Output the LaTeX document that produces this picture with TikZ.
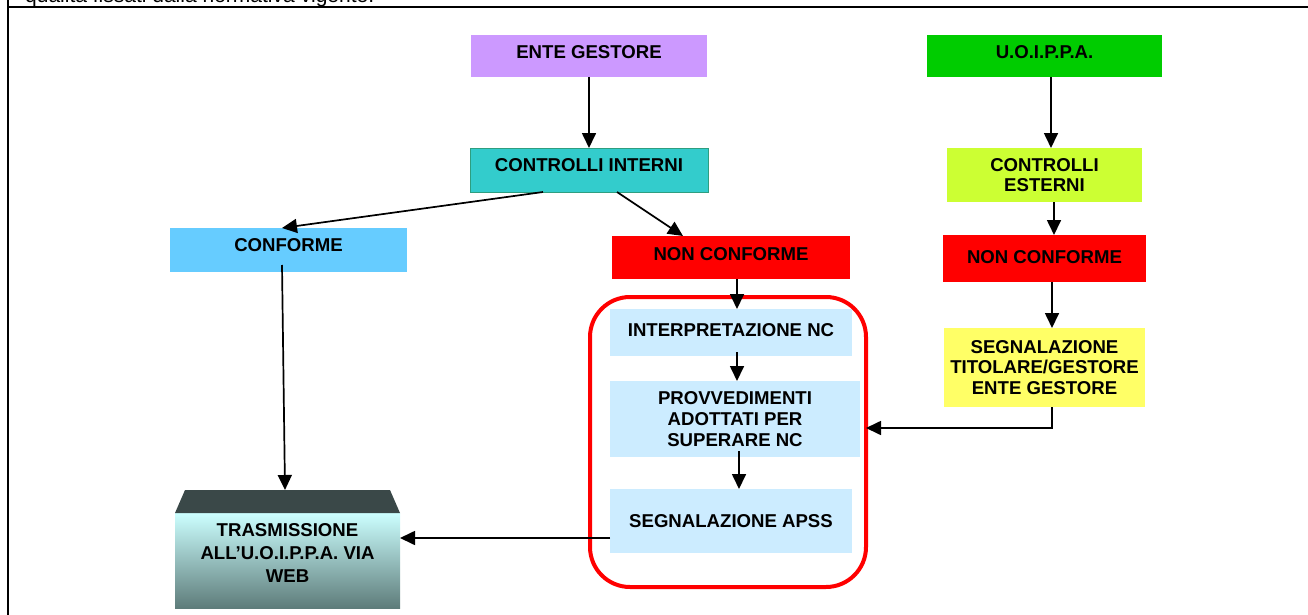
\documentclass[tikz,border=0pt]{standalone}
\usepackage{fontspec}
\setmainfont{Liberation Sans}
\usetikzlibrary{arrows.meta}
\definecolor{cviolet}{HTML}{CC99FF}
\definecolor{cteal}{HTML}{33CCCC}
\definecolor{ctealb}{HTML}{2E9E80}
\definecolor{cgreen}{HTML}{00CC00}
\definecolor{clime}{HTML}{CCFF33}
\definecolor{cred}{HTML}{FF0000}
\definecolor{cyellow}{HTML}{FFFF66}
\definecolor{csky}{HTML}{66CCFF}
\definecolor{cpale}{HTML}{CCECFF}
\definecolor{trtop}{HTML}{CCFFFF}
\definecolor{trbot}{HTML}{5E7C7A}
\definecolor{trroof}{HTML}{3A4848}
\tikzset{
  box/.style={inner sep=0pt, outer sep=0pt, align=center,
    font=\fontsize{18.6}{20.8}\selectfont\bfseries},
  raised/.style={text height=13.4pt, text depth=#1},
  arr/.style={line width=1.7pt, -{Triangle[length=15pt,width=14pt]}}
}
\begin{document}
\begin{tikzpicture}[x=1pt,y=-1pt]
\useasboundingbox (0,0) rectangle (1308,615);
% page frame
\draw[line width=2pt] (8,0) -- (8,615);
\draw[line width=2pt] (8,7) -- (1308,7);
\node[anchor=base west, inner sep=0pt, font=\fontsize{21}{25}\selectfont] (hdr) at (25,3) {qualità fissati dalla normativa vigente.};

% left column
\node[box, raised=8pt, fill=cviolet, minimum width=236pt, minimum height=42pt] (eg) at (589,56) {ENTE GESTORE};
\node[box, raised=10pt, fill=cteal, draw=ctealb, line width=0.6pt, minimum width=238pt, minimum height=44pt] (ci) at (589,170) {CONTROLLI INTERNI};
\node[box, raised=10pt, fill=csky, minimum width=237pt, minimum height=44pt] (conf) at (288.5,250) {CONFORME};
\node[box, raised=8pt, fill=cred, minimum width=238pt, minimum height=43pt] (nc1) at (731,257.5) {NON CONFORME};

% rounded group
\node[draw=cred, line width=4pt, rounded corners=40pt, minimum width=276pt, minimum height=290pt, inner sep=0pt] (grp) at (728,442) {};
\node[box, raised=6pt, fill=cpale, minimum width=242pt, minimum height=47pt] (ip) at (731,332.5) {INTERPRETAZIONE NC};
\node[box, fill=cpale, minimum width=250pt, minimum height=76pt] (pv) at (735,419) {PROVVEDIMENTI\\ADOTTATI PER\\SUPERARE NC};
\node[box, fill=cpale, minimum width=242pt, minimum height=64pt] (sa) at (731,521) {SEGNALAZIONE APSS};

% right column
\node[box, raised=8pt, fill=cgreen, minimum width=235pt, minimum height=42pt] (uo) at (1044.5,56) {U.O.I.P.P.A.};
\node[box, fill=clime, minimum width=195pt, minimum height=54pt] (ce) at (1044.5,175) {CONTROLLI\\ESTERNI};
\node[box, raised=4pt, fill=cred, minimum width=203pt, minimum height=47pt] (nc2) at (1044.5,258.5) {NON CONFORME};
\node[box, fill=cyellow, minimum width=201pt, minimum height=79pt] (st) at (1044.5,367.5) {SEGNALAZIONE\\TITOLARE/GESTORE\\ENTE GESTORE};

% trasmissione shape
\shade[top color=trtop, bottom color=trbot] (175,513) rectangle (400,608);
\fill[trroof] (185,490) -- (390,490) -- (400,513) -- (175,513) -- cycle;
\node[box, font=\fontsize{18.6}{23}\selectfont\bfseries, minimum width=225pt, minimum height=110pt] (tr) at (287.5,553) {TRASMISSIONE\\ALL’U.O.I.P.P.A. VIA\\WEB};

% connectors
\coordinate (j) at (1052,428);
\coordinate (k) at (0,538);
\draw[arr] (eg.south) -- (ci.north);
\draw[arr] ([xshift=-46pt]ci.south) -- ([xshift=-6.5pt]conf.north);
\draw[arr] ([xshift=28pt]ci.south) -- ([xshift=-48pt]nc1.north);
\draw[arr] ([xshift=-6.5pt,yshift=7pt]conf.south) -- ([xshift=-2.5pt,yshift=8pt]tr.north);
\draw[arr] ([xshift=6pt]nc1.south) -- ([xshift=6pt]ip.north);
\draw[arr] ([xshift=6pt,yshift=4pt]ip.south) -- ([xshift=2pt]pv.north);
\draw[arr] ([xshift=4pt,yshift=6pt]pv.south) -- ([xshift=8pt]sa.north);
\draw[arr] (sa.west |- k) -- (tr.east |- k);
\draw[arr] ([xshift=6.5pt]uo.south) -- ([xshift=6.5pt]ce.north);
\draw[arr] ([xshift=9.5pt]ce.south) -- ([xshift=9.5pt]nc2.north);
\draw[arr] ([xshift=7.5pt]nc2.south) -- ([xshift=7.5pt]st.north);
\draw[arr, shorten >=-2pt] ([xshift=7.5pt]st.south) -- (j) -- (grp.east |- j);
\end{tikzpicture}
\end{document}
